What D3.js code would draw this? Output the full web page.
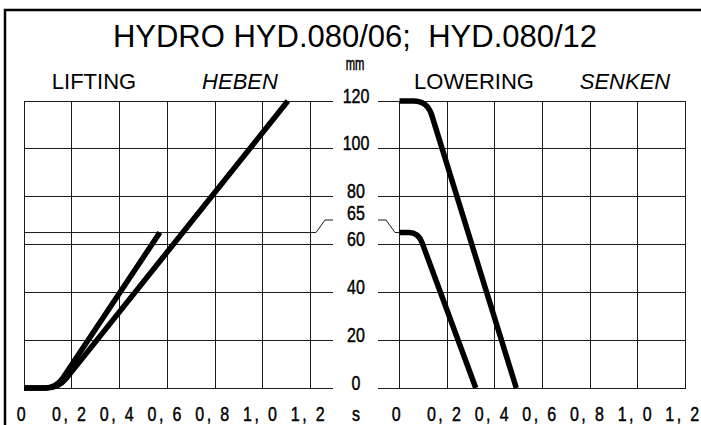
<!DOCTYPE html>
<html>
<head>
<meta charset="utf-8">
<script src="https://cdn.jsdelivr.net/npm/d3@7"></script>
<style>
  html, body { margin: 0; padding: 0; background: #fff; }
  svg { display: block; }
  .title { font-family: "Liberation Sans", Arial, sans-serif; }
  .tick { font-family: "Liberation Sans", Arial, sans-serif; stroke: #000; stroke-width: 0.45px; }
</style>
</head>
<body>
<div id="chart"></div>
<script>
// Chart data
const xTicks = [0, 0.2, 0.4, 0.6, 0.8, 1.0, 1.2];
const xTickLabels = ['0', '0, 2', '0, 4', '0, 6', '0, 8', '1, 0', '1, 2'];
const yTicks = [0, 20, 40, 60, 80, 100, 120];
const yTickLabels = ['0', '20', '40', '60', '80', '100', '120'];
const markLevel = 65; // extra level marked on the axis

// Lifting (HEBEN): [time s, stroke mm]
const liftHyd06 = [[0, 0], [0.135, 0], [0.569, 65]];
const liftHyd12 = [[0, 0], [0.145, 0], [1.105, 120]];
// Lowering (SENKEN)
const lowerHyd06 = [[0, 65], [0.079, 65], [0.32, 0]];
const lowerHyd12 = [[0, 120], [0.117, 120], [0.49, 0]];

const width = 701, height = 425;
const squeeze = 0.8; // narrow look of the axis figures

const svg = d3.select('#chart')
  .append('svg')
  .attr('width', width)
  .attr('height', height);

// Scales
const y = d3.scaleLinear().domain([0, 120]).range([388, 101]);
const xL = d3.scaleLinear().domain([0, 1.2]).range([24, 310.5]);
const xR = d3.scaleLinear().domain([0, 1.2]).range([399.5, 685.5]);

// Outer frame (top and left only)
svg.append('path')
  .attr('d', `M5,${height} L5,10 L${width},10`)
  .attr('fill', 'none')
  .attr('stroke', '#000')
  .attr('stroke-width', 2.5);

// Title
svg.append('text')
  .attr('class', 'title')
  .attr('x', 355).attr('y', 47)
  .attr('text-anchor', 'middle')
  .attr('font-size', 31)
  .text('HYDRO HYD.080/06;\u00a0 HYD.080/12');

const subs = [
  { text: 'LIFTING', x: 94, italic: false },
  { text: 'HEBEN', x: 240, italic: true },
  { text: 'LOWERING', x: 474, italic: false },
  { text: 'SENKEN', x: 625, italic: true }
];
svg.selectAll('.sub')
  .data(subs)
  .enter().append('text')
  .attr('class', 'title sub')
  .attr('x', d => d.x).attr('y', 89)
  .attr('text-anchor', 'middle')
  .attr('font-size', 22)
  .attr('font-style', d => d.italic ? 'italic' : 'normal')
  .text(d => d.text);

// Grids
const grid = svg.append('g')
  .attr('stroke', '#1a1a1a')
  .attr('stroke-width', 1)
  .attr('shape-rendering', 'crispEdges');

// horizontal lines, left panel runs on toward the labels
grid.selectAll('.hl')
  .data(yTicks)
  .enter().append('line')
  .attr('x1', xL(0)).attr('x2', 333)
  .attr('y1', d => y(d)).attr('y2', d => y(d));

grid.selectAll('.hr')
  .data(yTicks)
  .enter().append('line')
  .attr('x1', 378).attr('x2', xR(1.2))
  .attr('y1', d => y(d)).attr('y2', d => y(d));

grid.selectAll('.vl')
  .data(xTicks)
  .enter().append('line')
  .attr('x1', d => xL(d)).attr('x2', d => xL(d))
  .attr('y1', y(0)).attr('y2', y(120));

grid.selectAll('.vr')
  .data(xTicks)
  .enter().append('line')
  .attr('x1', d => xR(d)).attr('x2', d => xR(d))
  .attr('y1', y(0)).attr('y2', y(120));

// 65 mm marker line with leaders to its label
const y65 = y(markLevel);
svg.append('path')
  .attr('d', `M${xL(0)},${y65} L316,${y65} L325,220 L333,220`)
  .attr('fill', 'none').attr('stroke', '#1a1a1a').attr('stroke-width', 1);
svg.append('path')
  .attr('d', `M378,220 L386,220 L395,${y65} L${xR(0)},${y65}`)
  .attr('fill', 'none').attr('stroke', '#1a1a1a').attr('stroke-width', 1);

// narrow text: scaled horizontally around its anchor
function narrowText(sel, x, yPos, size, txt, spacing, sy) {
  return sel.append('text')
    .attr('class', 'tick')
    .attr('transform', `translate(${x},${yPos}) scale(${squeeze},${sy || 1})`)
    .attr('text-anchor', 'middle')
    .attr('font-size', size)
    .attr('letter-spacing', spacing || 0)
    .text(txt);
}

// Y labels in the middle column
const yLab = svg.append('g');
yTicks.forEach((d, i) => narrowText(yLab, 356, y(d) + 1.5, 20, yTickLabels[i]));
narrowText(yLab, 356, 220, 20, String(markLevel));
narrowText(yLab, 355, 70, 14, 'mm', 0, 1.3);

// X labels
const xLab = svg.append('g');
xTicks.forEach((d, i) => {
  narrowText(xLab, xL(d) - 1.5, 421, 20, xTickLabels[i], 3);
  narrowText(xLab, xR(d) - 2, 421, 20, xTickLabels[i], 3);
});
narrowText(xLab, 356, 421, 20, 's');

// Polyline with rounded corners at the break points
function roundedPath(pts, r) {
  let d = `M${pts[0][0]},${pts[0][1]}`;
  for (let i = 1; i < pts.length - 1; i++) {
    const [px, py] = pts[i - 1], [vx, vy] = pts[i], [nx, ny] = pts[i + 1];
    const l1 = Math.hypot(px - vx, py - vy), l2 = Math.hypot(nx - vx, ny - vy);
    const c1 = Math.min(r, l1 / 2), c2 = Math.min(r, l2 / 2);
    const ax = vx + (px - vx) * c1 / l1, ay = vy + (py - vy) * c1 / l1;
    const bx = vx + (nx - vx) * c2 / l2, by = vy + (ny - vy) * c2 / l2;
    d += ` L${ax},${ay} Q${vx},${vy} ${bx},${by}`;
  }
  const last = pts[pts.length - 1];
  return d + ` L${last[0]},${last[1]}`;
}

const curves = [
  { data: liftHyd06, x: xL, r: 12 },
  { data: liftHyd12, x: xL, r: 12 },
  { data: lowerHyd06, x: xR, r: 11 },
  { data: lowerHyd12, x: xR, r: 15 }
];

svg.append('g')
  .selectAll('path')
  .data(curves)
  .enter().append('path')
  .attr('d', c => roundedPath(c.data.map(p => [c.x(p[0]), y(p[1])]), c.r))
  .attr('fill', 'none')
  .attr('stroke', '#000')
  .attr('stroke-width', 5.5)
  .attr('stroke-linecap', 'butt');
</script>
</body>
</html>
